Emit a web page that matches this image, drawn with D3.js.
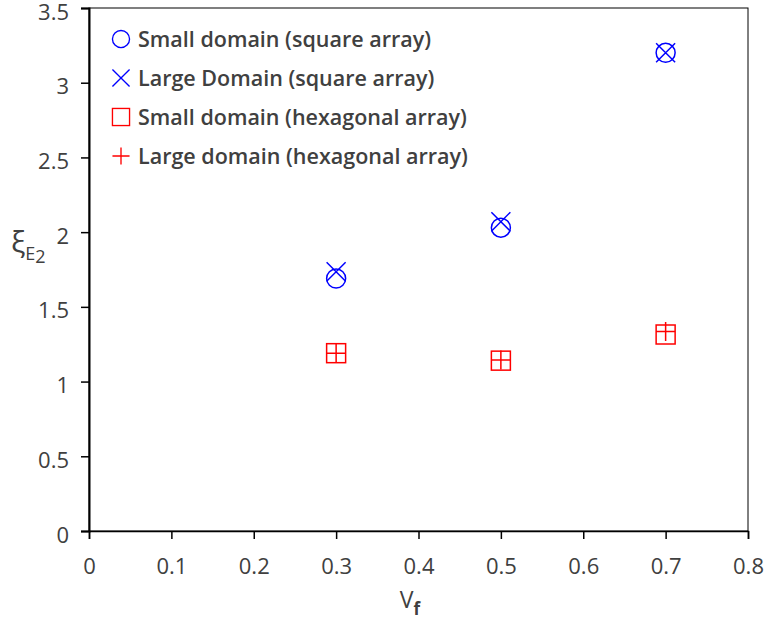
<!DOCTYPE html>
<html>
<head>
<meta charset="utf-8">
<script src="https://cdn.jsdelivr.net/npm/d3@7"></script>
<style>
  body { margin: 0; background: #fff; }
  text { font-family: "Open Sans", sans-serif; fill: #404040; }
</style>
</head>
<body>
<div id="chart"></div>
<script>
const width = 770, height = 628;
const margin = {top: 8, right: 22, bottom: 97, left: 89};

// data
const vf = [0.3, 0.5, 0.7];
const smallSquare = [1.69, 2.03, 3.20];
const largeSquare = [1.735, 2.07, 3.20];
const smallHex = [1.19, 1.14, 1.315];
const largeHex = [1.19, 1.145, 1.335];
const xTicks = [0, 0.1, 0.2, 0.3, 0.4, 0.5, 0.6, 0.7, 0.8];
const yTicks = [0, 0.5, 1, 1.5, 2, 2.5, 3, 3.5];

const series = [
    {label: "Small domain (square array)", values: smallSquare, shape: "circle", color: "#0000ff"},
    {label: "Large Domain (square array)", values: largeSquare, shape: "cross", color: "#0000ff"},
    {label: "Small domain (hexagonal array)", values: smallHex, shape: "square", color: "#ff0000"},
    {label: "Large domain (hexagonal array)", values: largeHex, shape: "plus", color: "#ff0000"}
];

const svg = d3.select("#chart").append("svg")
    .attr("width", width)
    .attr("height", height);

const x = d3.scaleLinear().domain([0, 0.8]).range([margin.left, width - margin.right]);
const y = d3.scaleLinear().domain([0, 3.5]).range([height - margin.bottom, margin.top]);

// frame
svg.append("rect")
    .attr("x", x(0)).attr("y", y(3.5))
    .attr("width", x(0.8) - x(0)).attr("height", y(0) - y(3.5))
    .attr("fill", "none").attr("stroke", "#000").attr("stroke-width", 1);

const xAxis = svg.append("g")
    .attr("transform", `translate(0,${y(0)})`)
    .call(d3.axisBottom(x).tickValues(xTicks).tickSize(8).tickPadding(19).tickFormat(d3.format("")));
const yAxis = svg.append("g")
    .attr("transform", `translate(${x(0)},0)`)
    .call(d3.axisLeft(y).tickValues(yTicks).tickSize(8).tickPadding(12).tickFormat(d3.format("")));

[xAxis, yAxis].forEach(a => {
    a.select(".domain").attr("stroke", "#000").attr("stroke-width", 2);
    a.selectAll(".tick line").attr("stroke", "#000").attr("stroke-width", 1.5);
    a.selectAll(".tick text").style("font-size", "22px").style("font-weight", 500).attr("fill", "#404040");
});
xAxis.select(".domain").attr("stroke-width", 1.5);
yAxis.selectAll(".tick text").attr("dy", "0.5em");

const r = 9.5;
function drawMarker(g, shape, color){
    if(shape == "circle"){
        g.append("circle").attr("r", r).attr("fill", "none").attr("stroke", color).attr("stroke-width", 1.5);
    } else if(shape == "square"){
        g.append("rect").attr("x", -r).attr("y", -r).attr("width", 2*r).attr("height", 2*r)
            .attr("fill", "none").attr("stroke", color).attr("stroke-width", 1.5);
    } else if(shape == "cross"){
        g.append("path").attr("d", `M${-r},${-r}L${r},${r}M${-r},${r}L${r},${-r}`)
            .attr("stroke", color).attr("stroke-width", 1.5);
    } else {
        g.append("path").attr("d", `M${-r},0L${r},0M0,${-r}L0,${r}`)
            .attr("stroke", color).attr("stroke-width", 1.5);
    }
}

series.forEach(s => {
    vf.forEach((v, i) => {
        const g = svg.append("g").attr("transform", `translate(${x(v)},${y(s.values[i])})`);
        drawMarker(g, s.shape, s.color);
    });
});

// legend
const legend = svg.append("g").attr("transform", "translate(121,39)");
series.forEach((s, i) => {
    const g = legend.append("g").attr("transform", `translate(0,${i*39})`);
    drawMarker(g.append("g").attr("transform", "scale(0.9)"), s.shape, s.color);
    g.append("text").attr("x", 17).attr("dy", "0.35em")
        .style("font-size", "21.5px").style("font-weight", 600)
        .text(s.label);
});

// axis titles
svg.append("text")
    .attr("x", 410).attr("y", 608)
    .attr("text-anchor", "middle")
    .style("font-size", "23px")
    .html('V<tspan dy="7" style="font-size:17px;font-weight:700">f</tspan>');

svg.append("text")
    .attr("x", 11).attr("y", 252)
    .style("font-size", "30px")
    .html('ξ<tspan dy="8" style="font-size:18px">E</tspan><tspan dy="3" style="font-size:18px">2</tspan>');
</script>
</body>
</html>
